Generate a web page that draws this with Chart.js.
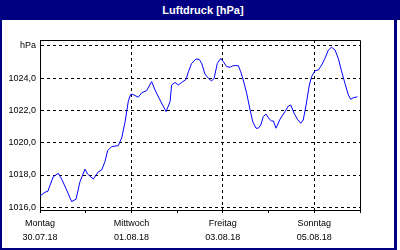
<!DOCTYPE html>
<html><head><meta charset="utf-8">
<script src="https://cdn.jsdelivr.net/npm/chart.js@4"></script>
<style>
html,body{margin:0;padding:0;background:#fff;}
#wrap{position:relative;width:400px;height:250px;overflow:hidden;background:#fff;}
#bar{position:absolute;left:0;top:0;width:400px;height:20px;background:#000080;color:#fff;font:bold 11px "Liberation Sans",Arial,sans-serif;line-height:20px;}
#bar span{position:absolute;left:203px;top:0;transform:translateX(-50%);white-space:nowrap;}
.b{position:absolute;background:#000080;}
canvas{position:absolute;left:0;top:0;}
</style></head><body>
<div id="wrap">
<div id="bar"><span>Luftdruck [hPa]</span></div>
<div class="b" style="left:0;top:20px;width:2px;height:230px"></div>
<div class="b" style="left:394px;top:20px;width:3px;height:230px"></div>
<div class="b" style="left:0;top:248px;width:397px;height:2px"></div>
<canvas id="c" width="400" height="250"></canvas>
</div>
<script>
// hours since Monday 30.07.18 00:00
const hours = [0,2.6,4.2,5.3,7.0,9.6,11.4,14.0,16.6,18.9,21.0,23.6,25.0,28.0,30.6,32.4,34.1,35.5,37.6,41.1,42.9,44.6,46.4,47.6,48.7,51.6,53.4,56.0,58.6,60.4,63.0,66.2,68.3,69.1,70.9,72.6,74.4,76.7,77.9,79.6,81.9,83.6,84.9,86.6,88.4,90.1,91.4,93.1,94.9,96.2,98.0,99.8,101.5,104.1,105.4,106.7,108.5,110.3,111.7,113.4,114.6,115.9,117.2,118.7,120.4,121.6,122.5,123.9,126.0,128.6,130.4,131.6,133.4,135.1,136.9,138.2,139.7,141.4,142.6,144.4,146.1,147.9,149.6,151.4,153.1,154.9,156.6,158.4,160.1,161.9,163.1,164.5,166.6];
const pressure = [1016.7,1016.93,1017.0,1017.38,1017.9,1018.1,1017.74,1017.07,1016.35,1016.5,1017.59,1018.36,1018.06,1017.75,1018.2,1018.31,1018.83,1019.51,1019.76,1019.82,1020.3,1021.25,1022.6,1023.0,1023.0,1022.82,1023.1,1023.23,1023.79,1023.27,1022.65,1021.93,1022.55,1023.58,1023.74,1023.58,1023.74,1023.93,1024.4,1024.92,1025.19,1025.17,1024.92,1024.26,1024.0,1023.83,1024.0,1024.92,1025.23,1025.03,1024.72,1024.68,1024.78,1024.78,1024.4,1023.89,1023.07,1022.03,1021.3,1020.9,1020.9,1021.1,1021.62,1021.77,1021.46,1021.35,1021.35,1020.9,1021.46,1021.93,1022.28,1022.34,1021.83,1021.46,1021.21,1021.41,1022.34,1023.58,1024.1,1024.47,1024.51,1024.82,1025.23,1025.75,1025.92,1025.75,1025.23,1024.4,1023.68,1022.96,1022.69,1022.79,1022.85];
const yTicks = [1016,1018,1020,1022,1024,1026];
const dayTicks = [0,24,48,72,96,120,144,168];
const labelHours = [0,48,96,144];
const labelDays = ['Montag','Mittwoch','Freitag','Sonntag'];
const labelDates = ['30.07.18','01.08.18','03.08.18','05.08.18'];

const fontSpec = {family:'"Liberation Sans", Arial, sans-serif', size:9, lineHeight:1.5};

const framePlugin = {
  id:'frame',
  afterDraw(chart){
    const {ctx, chartArea:a} = chart;
    ctx.save();
    ctx.strokeStyle = '#000';
    ctx.lineWidth = 1;
    ctx.beginPath();
    const t = Math.round(a.top)+0.5, r = Math.round(a.right)+0.5;
    ctx.moveTo(Math.round(a.left), t); ctx.lineTo(r, t);
    ctx.lineTo(r, Math.round(a.bottom)+3);
    ctx.stroke();
    ctx.restore();
  }
};

new Chart(document.getElementById('c'), {
  type:'line',
  data:{datasets:[{
    data: hours.map((h,i)=>({x:h, y:pressure[i]})),
    borderColor:'#0000ff', borderWidth:1, pointRadius:0, tension:0, fill:false
  }]},
  options:{
    responsive:false, animation:false,
    layout:{padding:{left:0,right:40,top:40,bottom:0}},
    plugins:{legend:{display:false}, tooltip:{enabled:false}},
    scales:{
      x:{
        type:'linear', min:0, max:168,
        afterBuildTicks: s => { s.ticks = dayTicks.map(v=>({value:v})); },
        afterFit: s => { s.height = 40; },
        grid:{
          color: c => (c.tick && labelHours.includes(c.tick.value) && c.tick.value > 0) ? '#000' : 'rgba(0,0,0,0)',
          tickColor:'#000', tickLength:3, lineWidth:1
        },
        border:{color:'#000', width:1, dash:[3,3]},
        ticks:{
          autoSkip:false, maxRotation:0, padding:4, color:'#000', font:fontSpec,
          callback: v => { const i = labelHours.indexOf(v); return i < 0 ? '' : [labelDays[i], labelDates[i]]; }
        }
      },
      y:{
        min:1015.83, max:1026.37,
        afterBuildTicks: s => { s.ticks = yTicks.map(v=>({value:v})); },
        afterFit: s => { s.width = 40; },
        grid:{color:'#000', drawTicks:false, lineWidth:1},
        border:{color:'#000', width:1, dash:[3,3]},
        ticks:{
          padding:4, color:'#000', font:fontSpec,
          callback: v => v === 1026 ? 'hPa' : v.toFixed(1).replace('.', ',')
        }
      }
    }
  },
  plugins:[framePlugin]
});
</script>
</body></html>
